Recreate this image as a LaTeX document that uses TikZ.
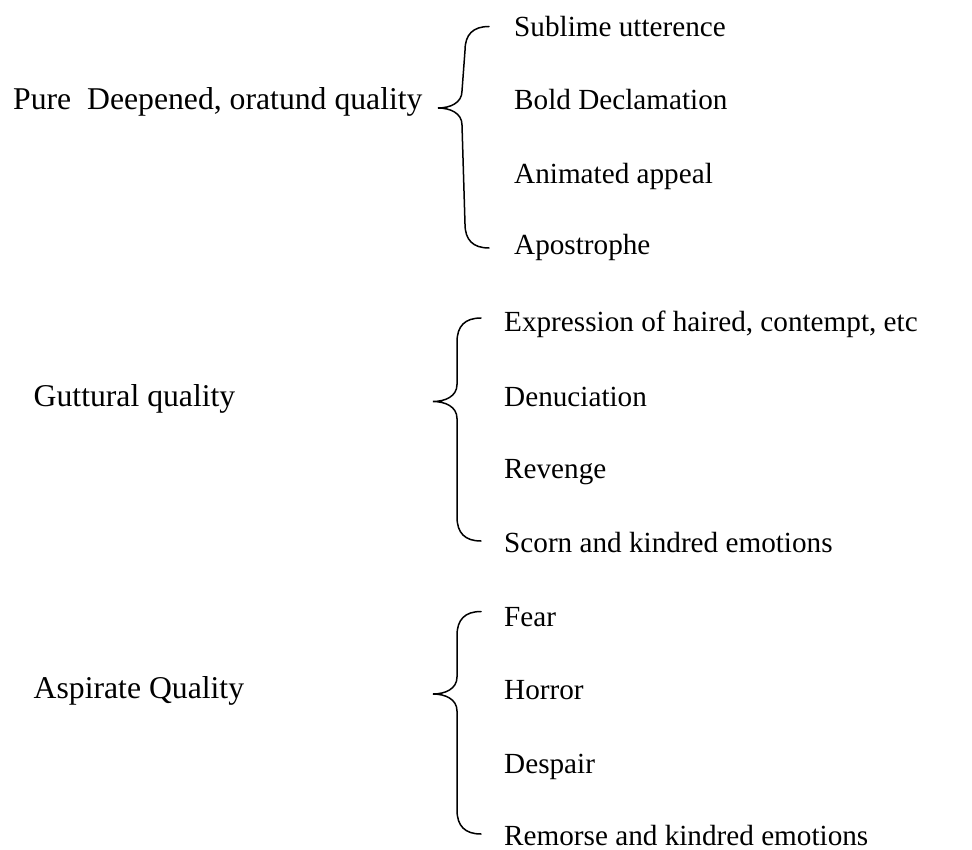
\documentclass[tikz,border=0pt]{standalone}
\usepackage{fontspec}
\setmainfont{Liberation Serif}
\usetikzlibrary{calc}

\tikzset{
  lbl/.style = {anchor=base west, inner sep=0pt, font=\fontsize{29.2}{35}\selectfont},
  head/.style = {lbl, font=\fontsize{31.7}{38}\selectfont},
  brace/.style = {line width=1.5pt, line cap=round}
}

% curly brace: top end, tip, bottom end
\newcommand{\qbrace}[3]{%
  \draw[brace] (#1) .. controls +(-16,0) and +(0,-16) .. ($(#1)+(-24,24)$)
    -- ($(#2)+(24,-17)$) .. controls +(0,12) and +(12,0) .. (#2)
    .. controls +(12,0) and +(0,-12) .. ($(#2)+(24,17)$)
    -- ($(#3)+(-24,-24)$) .. controls +(0,16) and +(-16,0) .. (#3);}

\begin{document}
\begin{tikzpicture}[x=1pt, y=-1pt]
  \useasboundingbox (0,0) rectangle (972,850);

  % Pure quality
  \node[head] (pure) at (13,110) {Pure\ \ Deepened, oratund quality};
  \node[lbl] (sublime) at (514,36.5) {Sublime utterence};
  \node[lbl] (bold) at (514,110) {Bold Declamation};
  \node[lbl] (animated) at (514,183.5) {Animated appeal};
  \node[lbl] (apostrophe) at (514,255) {Apostrophe};
  \coordinate (topA) at (489,26.5);
  \coordinate (tipA) at (438,108);
  \coordinate (botA) at (489,248);
  \qbrace{topA}{tipA}{botA}

  % Guttural quality
  \node[head] (guttural) at (33.5,406.5) {Guttural quality};
  \node[lbl] (expression) at (504,331.5) {Expression of haired, contempt, etc};
  \node[lbl] (denuciation) at (504,406) {Denuciation};
  \node[lbl] (revenge) at (504,478.5) {Revenge};
  \node[lbl] (scorn) at (504,552.5) {Scorn and kindred emotions};
  \coordinate (topB) at (481,318);
  \coordinate (tipB) at (433,401.5);
  \coordinate (botB) at (481,541);
  \qbrace{topB}{tipB}{botB}

  % Aspirate quality
  \node[head] (aspirate) at (33.5,698.5) {Aspirate Quality};
  \node[lbl] (fear) at (504,626.5) {Fear};
  \node[lbl] (horror) at (504,699.5) {Horror};
  \node[lbl] (despair) at (504,773.5) {Despair};
  \node[lbl] (remorse) at (504,845) {Remorse and kindred emotions};
  \coordinate (topC) at (481,611.5);
  \coordinate (tipC) at (433,694);
  \coordinate (botC) at (481,834);
  \qbrace{topC}{tipC}{botC}
\end{tikzpicture}
\end{document}
